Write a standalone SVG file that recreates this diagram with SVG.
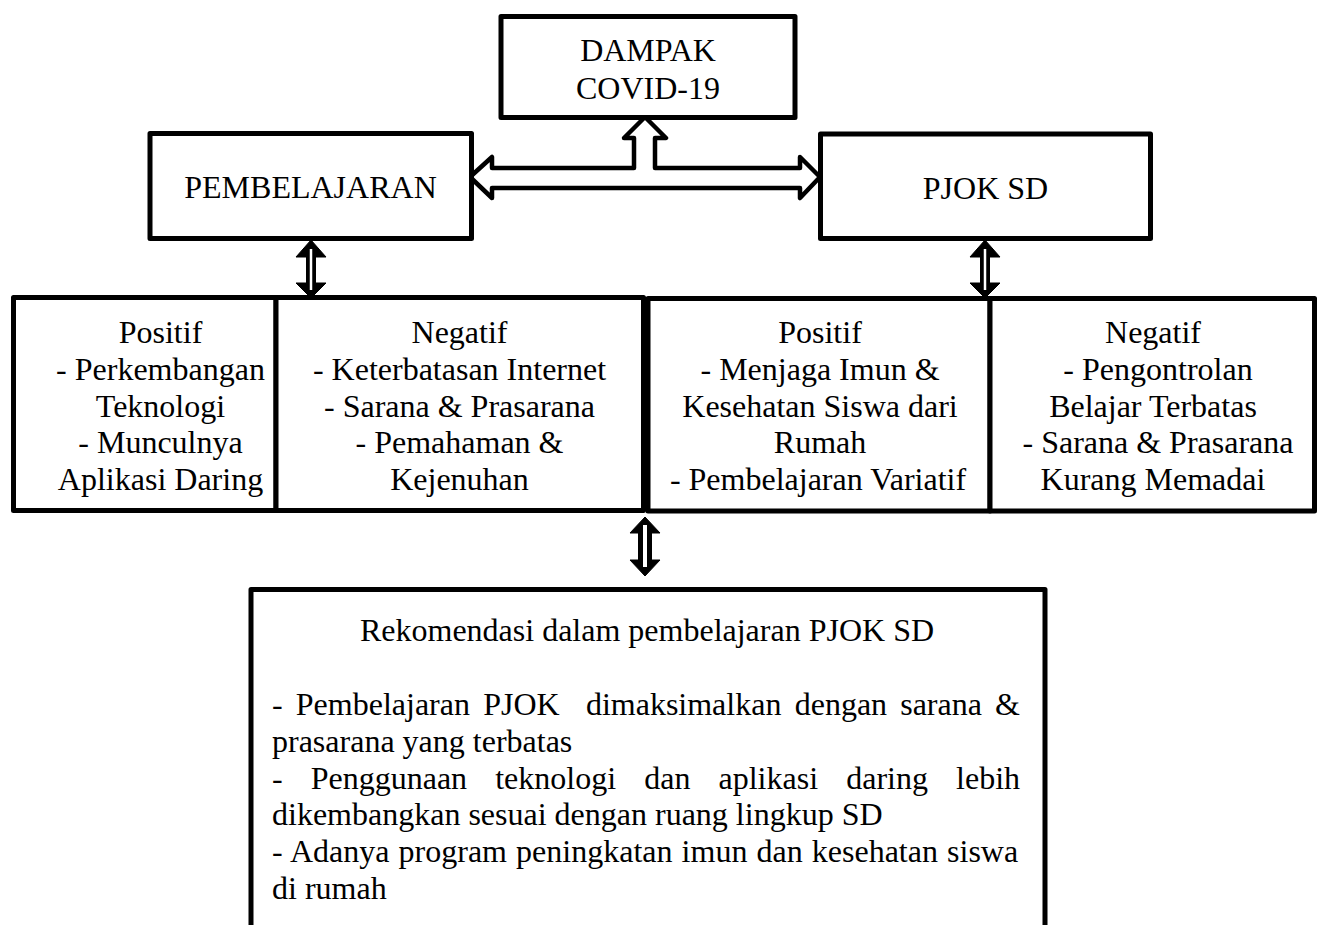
<svg xmlns="http://www.w3.org/2000/svg" width="1321" height="925" viewBox="0 0 1321 925">
<style>
.box{fill:#fff;stroke:#000;stroke-width:5;stroke-linejoin:round}
.t{font-family:"Liberation Serif","Times New Roman",serif;font-size:32px;fill:#000}
.c{text-anchor:middle}
.conn{fill:#fff;stroke:#000;stroke-width:4.5;stroke-linejoin:round}
.solid{fill:#000;stroke:#000;stroke-width:1;stroke-linejoin:miter}
.slit{stroke:#fff}
</style>
<rect width="1321" height="925" fill="#fff"/>

<g id="connectors">
  <path class="conn" d="M470,177 L492,157 L492,168 L634,168 L634,138 L624,138 L645,117 L666,138 L655,138 L655,168 L800,168 L800,157 L820,177 L800,198 L800,188 L492,188 L492,198 Z"/>
  <g id="arrow-left">
    <path class="solid" d="M311,240 L326,257 L315.5,257 L315.5,283 L326,283 L311,298 L296,283 L306.5,283 L306.5,257 L296,257 Z"/>
    <line class="slit" x1="311" y1="249" x2="311" y2="290" stroke-width="2.5"/>
  </g>
  <g id="arrow-right">
    <path class="solid" d="M985,240 L1000,257 L989.5,257 L989.5,283 L1000,283 L985,298 L970,283 L980.5,283 L980.5,257 L970,257 Z"/>
    <line class="slit" x1="985" y1="249" x2="985" y2="290" stroke-width="2.5"/>
  </g>
  <g id="arrow-bottom">
    <path class="solid" d="M645,517 L660,533 L651.5,533 L651.5,560 L660,560 L645,576 L630,560 L638.5,560 L638.5,533 L630,533 Z"/>
    <line class="slit" x1="645" y1="525" x2="645" y2="567" stroke-width="4"/>
  </g>
</g>

<g id="dampak">
  <rect class="box" x="501" y="16.5" width="294" height="101"/>
  <text class="t c" x="648" y="61">DAMPAK</text>
  <text class="t c" x="648" y="99">COVID-19</text>
</g>

<g id="pembelajaran">
  <rect class="box" x="150" y="133.5" width="321.5" height="105"/>
  <text class="t c" x="310.5" y="198">PEMBELAJARAN</text>
</g>

<g id="pjok">
  <rect class="box" x="820.5" y="134" width="330" height="104.5"/>
  <text class="t c" x="985.5" y="199">PJOK SD</text>
</g>

<g id="pemb-positif">
  <rect class="box" x="13.5" y="297.5" width="262.5" height="213"/>
  <text class="t c" x="160.5" y="343">Positif</text>
  <text class="t c" x="160.5" y="380">- Perkembangan</text>
  <text class="t c" x="160.5" y="416.5">Teknologi</text>
  <text class="t c" x="160.5" y="453">- Munculnya</text>
  <text class="t c" x="160.5" y="490">Aplikasi Daring</text>
</g>

<g id="pemb-negatif">
  <rect class="box" x="276" y="297.5" width="367.5" height="213"/>
  <text class="t c" x="459.5" y="343">Negatif</text>
  <text class="t c" x="459.5" y="380">- Keterbatasan Internet</text>
  <text class="t c" x="459.5" y="416.5">- Sarana &amp; Prasarana</text>
  <text class="t c" x="459.5" y="453">- Pemahaman &amp;</text>
  <text class="t c" x="459.5" y="490">Kejenuhan</text>
</g>

<g id="pjok-positif">
  <rect class="box" x="648" y="298.5" width="342" height="212.5"/>
  <text class="t c" x="820" y="343">Positif</text>
  <text class="t c" x="820" y="380">- Menjaga Imun &amp;</text>
  <text class="t c" x="820" y="416.5">Kesehatan Siswa dari</text>
  <text class="t c" x="820" y="453">Rumah</text>
  <text class="t c" x="818" y="490">- Pembelajaran Variatif</text>
</g>

<g id="pjok-negatif">
  <rect class="box" x="990" y="298.5" width="324.5" height="212.5"/>
  <text class="t c" x="1153" y="343">Negatif</text>
  <text class="t c" x="1158" y="380">- Pengontrolan</text>
  <text class="t c" x="1153" y="416.5">Belajar Terbatas</text>
  <text class="t c" x="1158" y="453">- Sarana &amp; Prasarana</text>
  <text class="t c" x="1153" y="490">Kurang Memadai</text>
</g>

<g id="rekomendasi">
  <path class="box" d="M251,935 L251,589.5 L1045,589.5 L1045,935"/>
  <text class="t c" x="647" y="641">Rekomendasi dalam pembelajaran PJOK SD</text>
  <text class="t" y="715"><tspan x="272">-</tspan><tspan x="295.8">Pembelajaran</tspan><tspan x="483.2">PJOK</tspan><tspan x="585.9">dimaksimalkan</tspan><tspan x="794.7">dengan</tspan><tspan x="900.2">sarana</tspan><tspan x="995.1">&amp;</tspan></text>
  <text class="t" x="272" y="752">prasarana yang terbatas</text>
  <text class="t" y="788.5"><tspan x="272">-</tspan><tspan x="310.7">Penggunaan</tspan><tspan x="495.2">teknologi</tspan><tspan x="644.2">dan</tspan><tspan x="718.5">aplikasi</tspan><tspan x="846.2">daring</tspan><tspan x="956.1">lebih</tspan></text>
  <text class="t" x="272" y="825">dikembangkan sesuai dengan ruang lingkup SD</text>
  <text class="t" x="272" y="862" word-spacing="1.1">- Adanya program peningkatan imun dan kesehatan siswa</text>
  <text class="t" x="272" y="898.5">di rumah</text>
</g>
</svg>
